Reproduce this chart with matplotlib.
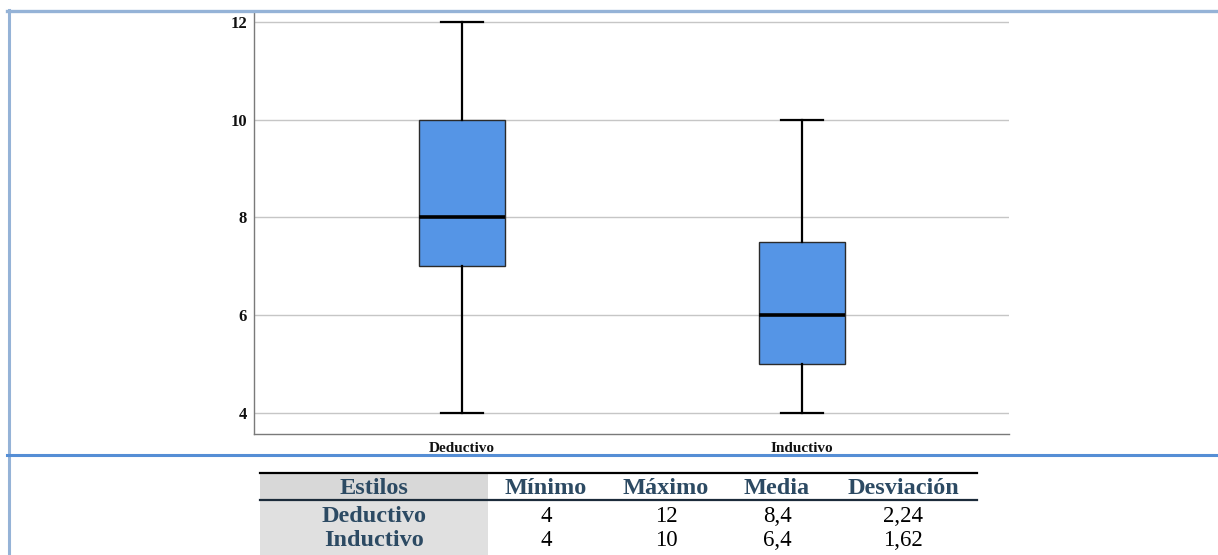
import matplotlib
matplotlib.use("Agg")
import matplotlib.pyplot as plt
from matplotlib.lines import Line2D
from matplotlib.patches import Rectangle

# Box plot summary per learning style
estilos = ["Deductivo", "Inductivo"]
minimos = [4, 4]
q1s = [7, 5]
medianas = [8, 6]
q3s = [10, 7.5]
maximos = [12, 10]

# Summary table
col_headers = ["Estilos", "Mínimo", "Máximo", "Media", "Desviación"]
tabla_min = ["4", "4"]
tabla_max = ["12", "10"]
tabla_media = ["8,4", "6,4"]
tabla_desv = ["2,24", "1,62"]

y_ticks = [4, 6, 8, 10, 12]

W, H = 1218, 555
fig = plt.figure(figsize=(W / 100, H / 100), dpi=100)
fig.patch.set_facecolor("white")


def fx(px):
    return px / W


def fy(py):
    return 1 - py / H


serif = "Liberation Serif"

ax = fig.add_axes([fx(254), fy(434), fx(1009) - fx(254), fy(12) - fy(434)])

stats = []
for lab, lo, a, m, b, hi in zip(estilos, minimos, q1s, medianas, q3s, maximos):
    stats.append(dict(label=lab, whislo=lo, q1=a, med=m, q3=b, whishi=hi, fliers=[]))

ax.bxp(
    stats,
    positions=[1, 2],
    widths=0.253,
    capwidths=0.124,
    patch_artist=True,
    showfliers=False,
    boxprops=dict(facecolor="#5595e6", edgecolor="#2b2b2b", linewidth=1.0),
    medianprops=dict(color="black", linewidth=2.6, solid_capstyle="butt"),
    whiskerprops=dict(color="black", linewidth=1.6),
    capprops=dict(color="black", linewidth=1.6),
    zorder=3,
)

ax.set_xlim(0.388, 2.609)
ax.set_ylim(3.57, 12.2)
ax.set_yticks(y_ticks)
ax.set_yticklabels([str(t) for t in y_ticks])
ax.set_xticks([1, 2])
ax.set_xticklabels(estilos)
ax.yaxis.grid(True, color="#c6c6c6", linewidth=1.0)
ax.set_axisbelow(True)
ax.tick_params(axis="y", length=0, pad=5)
ax.tick_params(axis="x", length=0, pad=6)
for lab in ax.get_yticklabels():
    lab.set_fontfamily(serif)
    lab.set_fontweight("bold")
    lab.set_fontsize(12)
    lab.set_color("#111111")
for lab in ax.get_xticklabels():
    lab.set_fontfamily(serif)
    lab.set_fontweight("bold")
    lab.set_fontsize(11)
    lab.set_color("#111111")
for side in ("top", "right"):
    ax.spines[side].set_visible(False)
for side in ("left", "bottom"):
    ax.spines[side].set_color("#7a7a7a")
    ax.spines[side].set_linewidth(1.0)

# Frame lines around the chart area
fig.add_artist(Line2D([fx(7), fx(1218)], [fy(11), fy(11)], color="#95b3d7", linewidth=2.4))
fig.add_artist(Line2D([fx(8.7), fx(8.7)], [fy(10), fy(555)], color="#95b3d7", linewidth=2.2))
fig.add_artist(Line2D([fx(7), fx(1218)], [fy(455), fy(455)], color="#558ed5", linewidth=2.2))

# Summary table below the chart
tx0, tx1 = 260, 977
fig.add_artist(Rectangle((fx(tx0), fy(499)), fx(488) - fx(tx0), fy(473) - fy(499),
                         facecolor="#d8d8d8", edgecolor="none"))
fig.add_artist(Rectangle((fx(tx0), fy(556)), fx(488) - fx(tx0), fy(501) - fy(556),
                         facecolor="#e0e0e0", edgecolor="none"))
fig.add_artist(Line2D([fx(tx0), fx(tx1)], [fy(472.5), fy(472.5)], color="black", linewidth=1.6))
fig.add_artist(Line2D([fx(tx0), fx(tx1)], [fy(500), fy(500)], color="#1c2b3a", linewidth=1.6))

col_x = [374, 546, 666, 777, 903]
head_color = "#2c4a63"
for x, h in zip(col_x, col_headers):
    fig.text(fx(x), fy(488), h, ha="center", va="center", fontfamily=serif,
             fontweight="bold", fontsize=17.5, color=head_color)

row_y = [517, 541]
for i, y in enumerate(row_y):
    fig.text(fx(col_x[0]), fy(y), estilos[i], ha="center", va="center", fontfamily=serif,
             fontweight="bold", fontsize=17.5, color=head_color)
    for x, vals in zip(col_x[1:], [tabla_min, tabla_max, tabla_media, tabla_desv]):
        fig.text(fx(x), fy(y), vals[i], ha="center", va="center", fontfamily=serif,
                 fontsize=16.5, color="black")

fig.savefig("out.png", dpi=100)
